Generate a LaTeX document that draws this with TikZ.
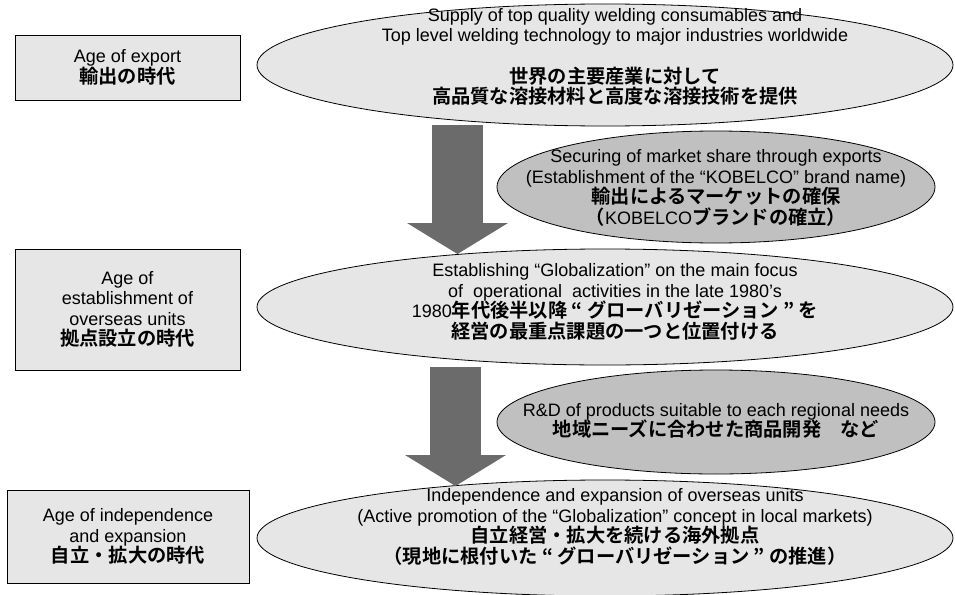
\documentclass[tikz,border=0pt]{standalone}
\usepackage{fontspec}
\setmainfont{Liberation Sans}
\newfontfamily\jpb{Noto Sans CJK JP Bold}[Scale=1.07]
\newcommand\jt[1]{{\jpb #1}}
\usetikzlibrary{shapes.geometric,arrows.meta}
\definecolor{lightfill}{HTML}{E6E6E6}
\definecolor{darkfill}{HTML}{C0C0C0}
\definecolor{arrowfill}{HTML}{6B6B6B}
\begin{document}
\begin{tikzpicture}[x=1pt,y=-1pt,
  agebox/.style={draw=black, line width=0.8pt, fill=lightfill, inner sep=0pt},
  lightell/.style={ellipse, draw=black, line width=0.8pt, fill=lightfill, inner sep=0pt},
  darkell/.style={ellipse, draw=black, line width=0.8pt, fill=darkfill, inner sep=0pt},
  txt/.style={align=center, inner sep=0pt, font=\fontsize{18}{20.5}\selectfont, text=black},
  bigarrow/.style={draw=arrowfill, line width=51pt, -{Triangle[length=31pt,width=101pt,line width=0pt]}}
]
\useasboundingbox (0,0) rectangle (955,594);

% age boxes
\node[agebox, minimum width=225pt, minimum height=65pt] (b1) at (127.5,67.5) {};
\node[agebox, minimum width=225pt, minimum height=121pt] (b2) at (127.5,309.5) {};
\node[agebox, minimum width=242pt, minimum height=93pt] (b3) at (128,536.5) {};

\node[txt] (tb1) at (b1.center) {Age of export\\\jt{輸出の時代}};
\node[txt] (tb2) at (b2.center) {Age of\\establishment of\\overseas units\\\jt{拠点設立の時代}};
\node[txt] (tb3) at (b3.center) {Age of independence\\and expansion\\\jt{自立・拡大の時代}};

% ellipses
\node[lightell, minimum width=696pt, minimum height=122pt] (e1) at (605,65) {};
\node[darkell, minimum width=438pt, minimum height=112pt] (d1) at (716,187) {};
\node[lightell, minimum width=696pt, minimum height=116pt] (e3) at (605,307) {};
\node[darkell, minimum width=438pt, minimum height=104pt] (d2) at (716,422) {};
\node[lightell, minimum width=696pt, minimum height=116pt] (e5) at (605,538) {};

% arrows
\coordinate (a1s) at (457.5,125);
\coordinate (a1e) at (457.5,254);
\coordinate (a2s) at (455.5,367);
\coordinate (a2e) at (455.5,486);
\draw[bigarrow] (a1s) -- (a1e);
\draw[bigarrow] (a2s) -- (a2e);

% texts
\node[txt] (te1) at (615,57) {Supply of top quality welding consumables and\\Top level welding technology to major industries worldwide\\[21pt]\jt{世界の主要産業に対して}\\\jt{高品質な溶接材料と高度な溶接技術を提供}};
\node[txt] (td1) at (716,188) {Securing of market share through exports\\(Establishment of the “KOBELCO” brand name)\\\jt{輸出によるマーケットの確保}\\\jt{（}KOBELCO\jt{ブランドの確立）}};
\node[txt] (te3) at (615,302) {Establishing “Globalization” on the main focus\\of\ \ operational\ \ activities in the late 1980’s\\1980\jt{年代後半以降 “ グローバリゼーション ” を}\\\jt{経営の最重点課題の一つと位置付ける}};
\node[txt] (td2) at (716,421) {R\&D of products suitable to each regional needs\\\jt{地域ニーズに合わせた商品開発　など}};
\node[txt] (te5) at (615,527) {Independence and expansion of overseas units\\(Active promotion of the “Globalization” concept in local markets)\\\jt{自立経営・拡大を続ける海外拠点}\\\jt{（現地に根付いた “ グローバリゼーション ” の推進）}};
\end{tikzpicture}
\end{document}
